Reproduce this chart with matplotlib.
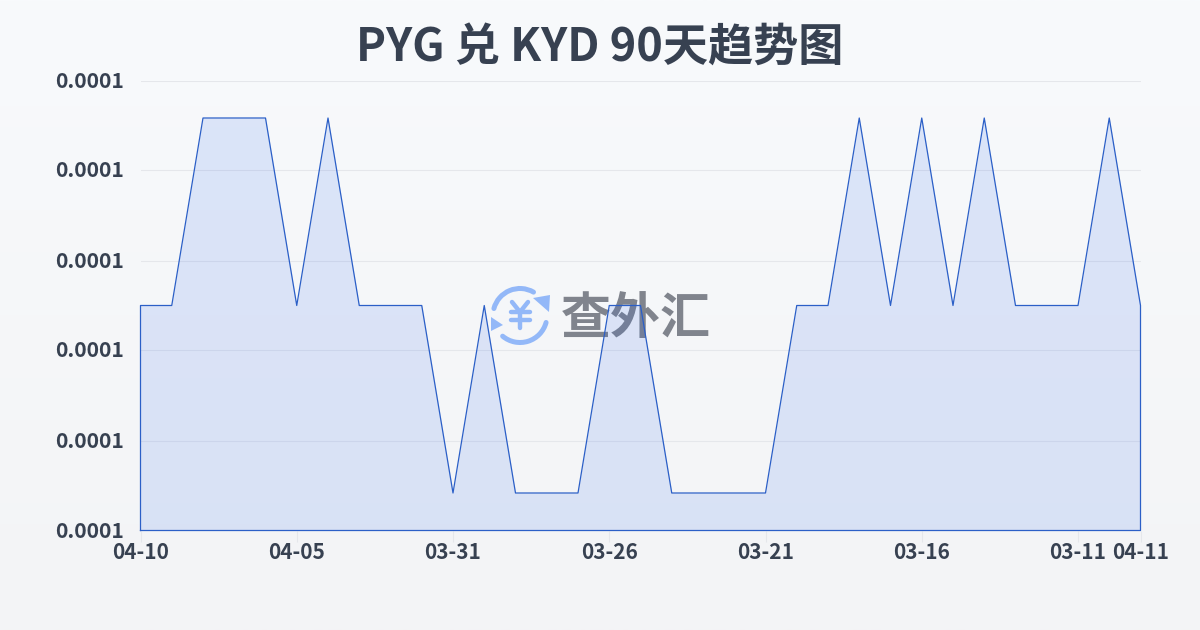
import numpy as np
import matplotlib
matplotlib.use('Agg')
import matplotlib.pyplot as plt
from matplotlib.patches import Arc, Polygon
from matplotlib.transforms import ScaledTranslation

# niveaux du taux (tous affiches 0.0001)
low = 0.000140
mid = 0.000141
top = 0.000142

rates = [mid, mid, top, top, top, mid, top, mid, mid, mid, low, mid, low, low, low, mid, mid,
         low, low, low, low, mid, mid, top, mid, top, mid, top, mid, mid, mid, top, mid]
tick_pos = [0, 5, 10, 15, 20, 25, 30, 32]
tick_labels = ['04-10', '04-05', '03-31', '03-26', '03-21', '03-16', '03-11', '04-11']
n_grid = 5

text_color = '#374151'
line_color = '#2b5fc7'
grid_color = '#e5e7eb'
logo_color = '#93b8f8'

plt.rcParams['font.family'] = ['Noto Sans CJK SC', 'DejaVu Sans']

fig = plt.figure(figsize=(12, 6.3), dpi=100)

# fond en degrade + logo, en pixels
bg = fig.add_axes([0, 0, 1, 1], zorder=0)
bg.set_xlim(0, 1200)
bg.set_ylim(630, 0)
bg.axis('off')
grad = np.linspace(0, 1, 256).reshape(-1, 1)
cmap = matplotlib.colors.LinearSegmentedColormap.from_list('bg', ['#f8fafc', '#f3f4f6'])
bg.imshow(grad, cmap=cmap, extent=[0, 1200, 630, 0], aspect='auto')

bg.add_patch(Arc((520, 315.5), 54, 54, theta1=195, theta2=300, lw=3.6, color=logo_color, capstyle='round'))
bg.add_patch(Arc((520, 315.5), 54, 54, theta1=15, theta2=130, lw=3.6, color=logo_color, capstyle='round'))
bg.add_patch(Polygon([[533, 298], [550, 295], [549, 312]], color=logo_color, lw=0))
bg.add_patch(Polygon([[491, 317], [491, 331], [503, 325]], color=logo_color, lw=0))
for xs, ys in [([512, 520, 528], [302, 312, 302]), ([511, 530], [312, 312]),
               ([511, 530], [320, 320]), ([520, 520], [312, 328])]:
    bg.plot(xs, ys, color=logo_color, lw=3.2, solid_capstyle='round', solid_joinstyle='round')
bg.text(636, 320, '查外汇', fontsize=36, fontweight='bold', color='#80848d',
        family='Noto Sans CJK SC', ha='center', va='center')

# graphique
ax = fig.add_axes([140.5 / 1200, 99.5 / 630, 1000 / 1200, 450 / 630], zorder=1)
ax.patch.set_alpha(0)
x = np.arange(len(rates))
span = top - low
ymin = low - span * 0.1
ymax = top + span * 0.1
ax.set_xlim(0, len(rates) - 1)
ax.set_ylim(ymin, ymax)

ax.fill_between(x, rates, ymin, color='#2563eb', alpha=0.13, lw=0)
ax.plot(np.r_[0, x, x[-1], 0], np.r_[ymin, rates, ymin, ymin], color=line_color, lw=0.9, clip_on=False)

for s in ax.spines.values():
    s.set_visible(False)
yticks = np.linspace(ymin, ymax, n_grid + 1)
ax.set_yticks(yticks)
ax.set_yticklabels(['%.4f' % v for v in yticks], fontsize=15.2, fontweight='bold', color=text_color)
ax.tick_params(axis='y', length=0, pad=12)
ax.set_xticks(tick_pos)
ax.set_xticklabels(tick_labels, fontsize=15, fontweight='bold', color=text_color)
ax.tick_params(axis='x', length=8, width=0.8, color=grid_color, pad=0)
ax.grid(axis='y', color=grid_color, lw=0.8)
ax.set_axisbelow(True)

# labels y un peu plus haut, comme sur l'original
up = ScaledTranslation(0, 1.5 / 100, fig.dpi_scale_trans)
for lab in ax.get_yticklabels():
    lab.set_transform(lab.get_transform() + up)

fig.text(600 / 1200, 1 - 47.5 / 630, 'PYG 兑 KYD 90天趋势图', fontsize=32.5, fontweight='bold', color=text_color,
         ha='center', va='center')

fig.savefig('out.png', dpi=100)
